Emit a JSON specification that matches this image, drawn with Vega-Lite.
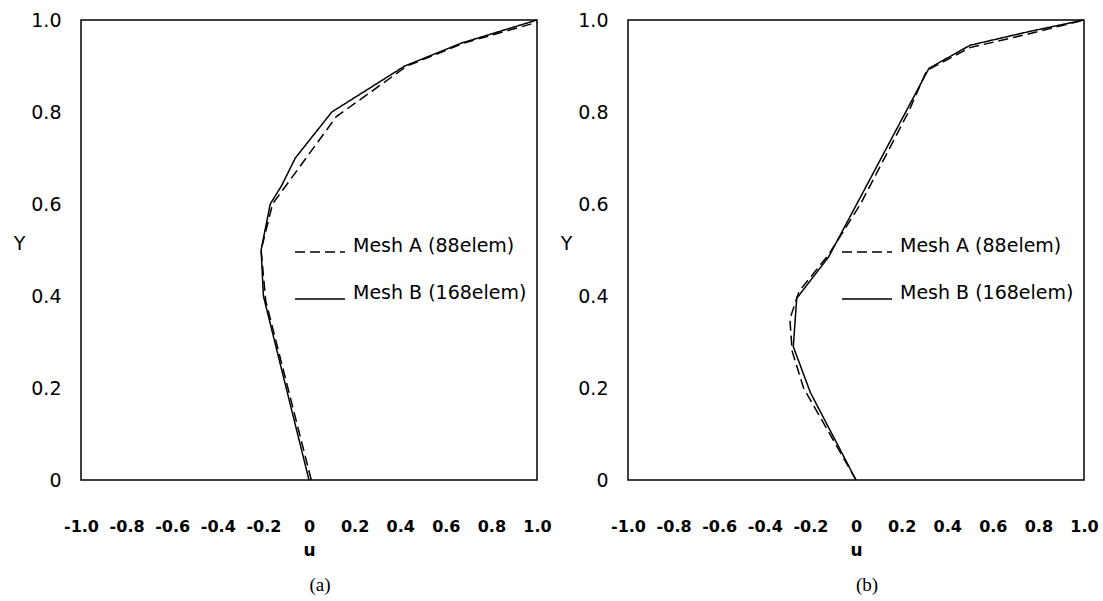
{
  "$schema": "https://vega.github.io/schema/vega-lite/v6.json",
  "background": "white",
  "padding": {"left": 12, "top": 10, "right": 5, "bottom": 5},
  "datasets": {
    "a": [
      {"mesh": "Mesh A (88elem)", "u": 0.01, "Y": 0},
      {"mesh": "Mesh A (88elem)", "u": -0.19, "Y": 0.39},
      {"mesh": "Mesh A (88elem)", "u": -0.21, "Y": 0.5},
      {"mesh": "Mesh A (88elem)", "u": -0.16, "Y": 0.6},
      {"mesh": "Mesh A (88elem)", "u": 0.12, "Y": 0.79},
      {"mesh": "Mesh A (88elem)", "u": 0.43, "Y": 0.9},
      {"mesh": "Mesh A (88elem)", "u": 0.68, "Y": 0.95},
      {"mesh": "Mesh A (88elem)", "u": 1.0, "Y": 0.995},
      {"mesh": "Mesh B (168elem)", "u": 0, "Y": 0},
      {"mesh": "Mesh B (168elem)", "u": -0.2, "Y": 0.4},
      {"mesh": "Mesh B (168elem)", "u": -0.21, "Y": 0.5},
      {"mesh": "Mesh B (168elem)", "u": -0.17, "Y": 0.6},
      {"mesh": "Mesh B (168elem)", "u": -0.12, "Y": 0.64},
      {"mesh": "Mesh B (168elem)", "u": -0.06, "Y": 0.7},
      {"mesh": "Mesh B (168elem)", "u": 0.1, "Y": 0.8},
      {"mesh": "Mesh B (168elem)", "u": 0.42, "Y": 0.9},
      {"mesh": "Mesh B (168elem)", "u": 0.67, "Y": 0.95},
      {"mesh": "Mesh B (168elem)", "u": 1.0, "Y": 1.0}
    ],
    "b": [
      {"mesh": "Mesh A (88elem)", "u": 0, "Y": 0},
      {"mesh": "Mesh A (88elem)", "u": -0.23, "Y": 0.2},
      {"mesh": "Mesh A (88elem)", "u": -0.28, "Y": 0.28},
      {"mesh": "Mesh A (88elem)", "u": -0.29, "Y": 0.35},
      {"mesh": "Mesh A (88elem)", "u": -0.25, "Y": 0.41},
      {"mesh": "Mesh A (88elem)", "u": -0.12, "Y": 0.49},
      {"mesh": "Mesh A (88elem)", "u": 0.02, "Y": 0.6},
      {"mesh": "Mesh A (88elem)", "u": 0.23, "Y": 0.8},
      {"mesh": "Mesh A (88elem)", "u": 0.31, "Y": 0.89},
      {"mesh": "Mesh A (88elem)", "u": 0.5, "Y": 0.94},
      {"mesh": "Mesh A (88elem)", "u": 0.76, "Y": 0.97},
      {"mesh": "Mesh A (88elem)", "u": 1.0, "Y": 1.0},
      {"mesh": "Mesh B (168elem)", "u": 0, "Y": 0},
      {"mesh": "Mesh B (168elem)", "u": -0.2, "Y": 0.19},
      {"mesh": "Mesh B (168elem)", "u": -0.275, "Y": 0.29},
      {"mesh": "Mesh B (168elem)", "u": -0.26, "Y": 0.395},
      {"mesh": "Mesh B (168elem)", "u": -0.12, "Y": 0.485},
      {"mesh": "Mesh B (168elem)", "u": 0.32, "Y": 0.895},
      {"mesh": "Mesh B (168elem)", "u": 0.5, "Y": 0.945},
      {"mesh": "Mesh B (168elem)", "u": 0.76, "Y": 0.975},
      {"mesh": "Mesh B (168elem)", "u": 1.0, "Y": 1.0}
    ]
  },
  "spacing": 91,
  "bounds": "flush",
  "resolve": {"scale": {"strokeDash": "independent"}, "legend": {"strokeDash": "independent"}},
  "hconcat": [
    {
      "width": 456,
      "height": 460,
      "data": {"name": "a"},
      "title": {"text": "(a)", "orient": "bottom", "frame": "group", "anchor": "middle", "dx": 11, "offset": 18},
      "mark": {"type": "line", "color": "black", "strokeWidth": 1.5},
      "encoding": {
        "x": {"field": "u", "type": "quantitative", "scale": {"domain": [-1, 1], "nice": false, "zero": false}, "axis": {"title": "u", "values": [-1, -0.8, -0.6, -0.4, -0.2, 0, 0.2, 0.4, 0.6, 0.8, 1], "labelExpr": "datum.value == 0 ? '0' : (datum.value < 0 ? '-' + format(-datum.value, '.1f') : format(datum.value, '.1f'))"}},
        "y": {"field": "Y", "type": "quantitative", "scale": {"domain": [0, 1], "nice": false}, "axis": {"title": "Y", "values": [0, 0.2, 0.4, 0.6, 0.8, 1], "labelExpr": "datum.value == 0 ? '0' : format(datum.value, '.1f')"}},
        "strokeDash": {"field": "mesh", "type": "nominal", "scale": {"domain": ["Mesh A (88elem)", "Mesh B (168elem)"], "range": [[10, 5], [1, 0]]}, "legend": {"orient": "none", "legendX": 213, "legendY": 222, "title": null}},
        "order": {"field": "Y", "type": "quantitative"}
      }
    },
    {
      "width": 456,
      "height": 460,
      "data": {"name": "b"},
      "title": {"text": "(b)", "orient": "bottom", "frame": "group", "anchor": "middle", "dx": 11, "offset": 18},
      "mark": {"type": "line", "color": "black", "strokeWidth": 1.5},
      "encoding": {
        "x": {"field": "u", "type": "quantitative", "scale": {"domain": [-1, 1], "nice": false, "zero": false}, "axis": {"title": "u", "values": [-1, -0.8, -0.6, -0.4, -0.2, 0, 0.2, 0.4, 0.6, 0.8, 1], "labelExpr": "datum.value == 0 ? '0' : (datum.value < 0 ? '-' + format(-datum.value, '.1f') : format(datum.value, '.1f'))"}},
        "y": {"field": "Y", "type": "quantitative", "scale": {"domain": [0, 1], "nice": false}, "axis": {"title": "Y", "values": [0, 0.2, 0.4, 0.6, 0.8, 1], "labelExpr": "datum.value == 0 ? '0' : format(datum.value, '.1f')"}},
        "strokeDash": {"field": "mesh", "type": "nominal", "scale": {"domain": ["Mesh A (88elem)", "Mesh B (168elem)"], "range": [[10, 5], [1, 0]]}, "legend": {"orient": "none", "legendX": 213, "legendY": 222, "title": null}},
        "order": {"field": "Y", "type": "quantitative"}
      }
    }
  ],
  "config": {
    "view": {"stroke": "black", "strokeWidth": 1.5},
    "axis": {"grid": false, "ticks": false, "domain": false, "labelColor": "black", "titleColor": "black"},
    "axisX": {"labelFont": "DejaVu Sans", "labelFontWeight": "bold", "labelFontSize": 16, "labelPadding": 38, "labelFlush": false, "labelOverlap": false, "titleFont": "DejaVu Sans", "titleFontWeight": "bold", "titleFontSize": 17, "titleY": 70, "titleBaseline": "middle"},
    "axisY": {"labelFont": "DejaVu Sans", "labelFontWeight": "normal", "labelFontSize": 19, "labelPadding": 20, "labelFlush": false, "labelOverlap": false, "titleFont": "DejaVu Sans", "titleFontWeight": "normal", "titleFontSize": 19, "titleAngle": 0, "titleX": -62, "titleY": 223, "titleAlign": "center", "titleBaseline": "middle"},
    "legend": {"symbolType": "stroke", "symbolSize": 2500, "symbolStrokeWidth": 1.5, "symbolStrokeColor": "black", "labelFont": "DejaVu Sans", "labelFontSize": 19, "labelBaseline": "alphabetic", "labelColor": "black", "labelOffset": 7, "clipHeight": 20, "rowPadding": 22, "labelLimit": 300},
    "title": {"font": "Liberation Serif", "fontSize": 19, "fontWeight": "normal", "color": "black"}
  }
}
